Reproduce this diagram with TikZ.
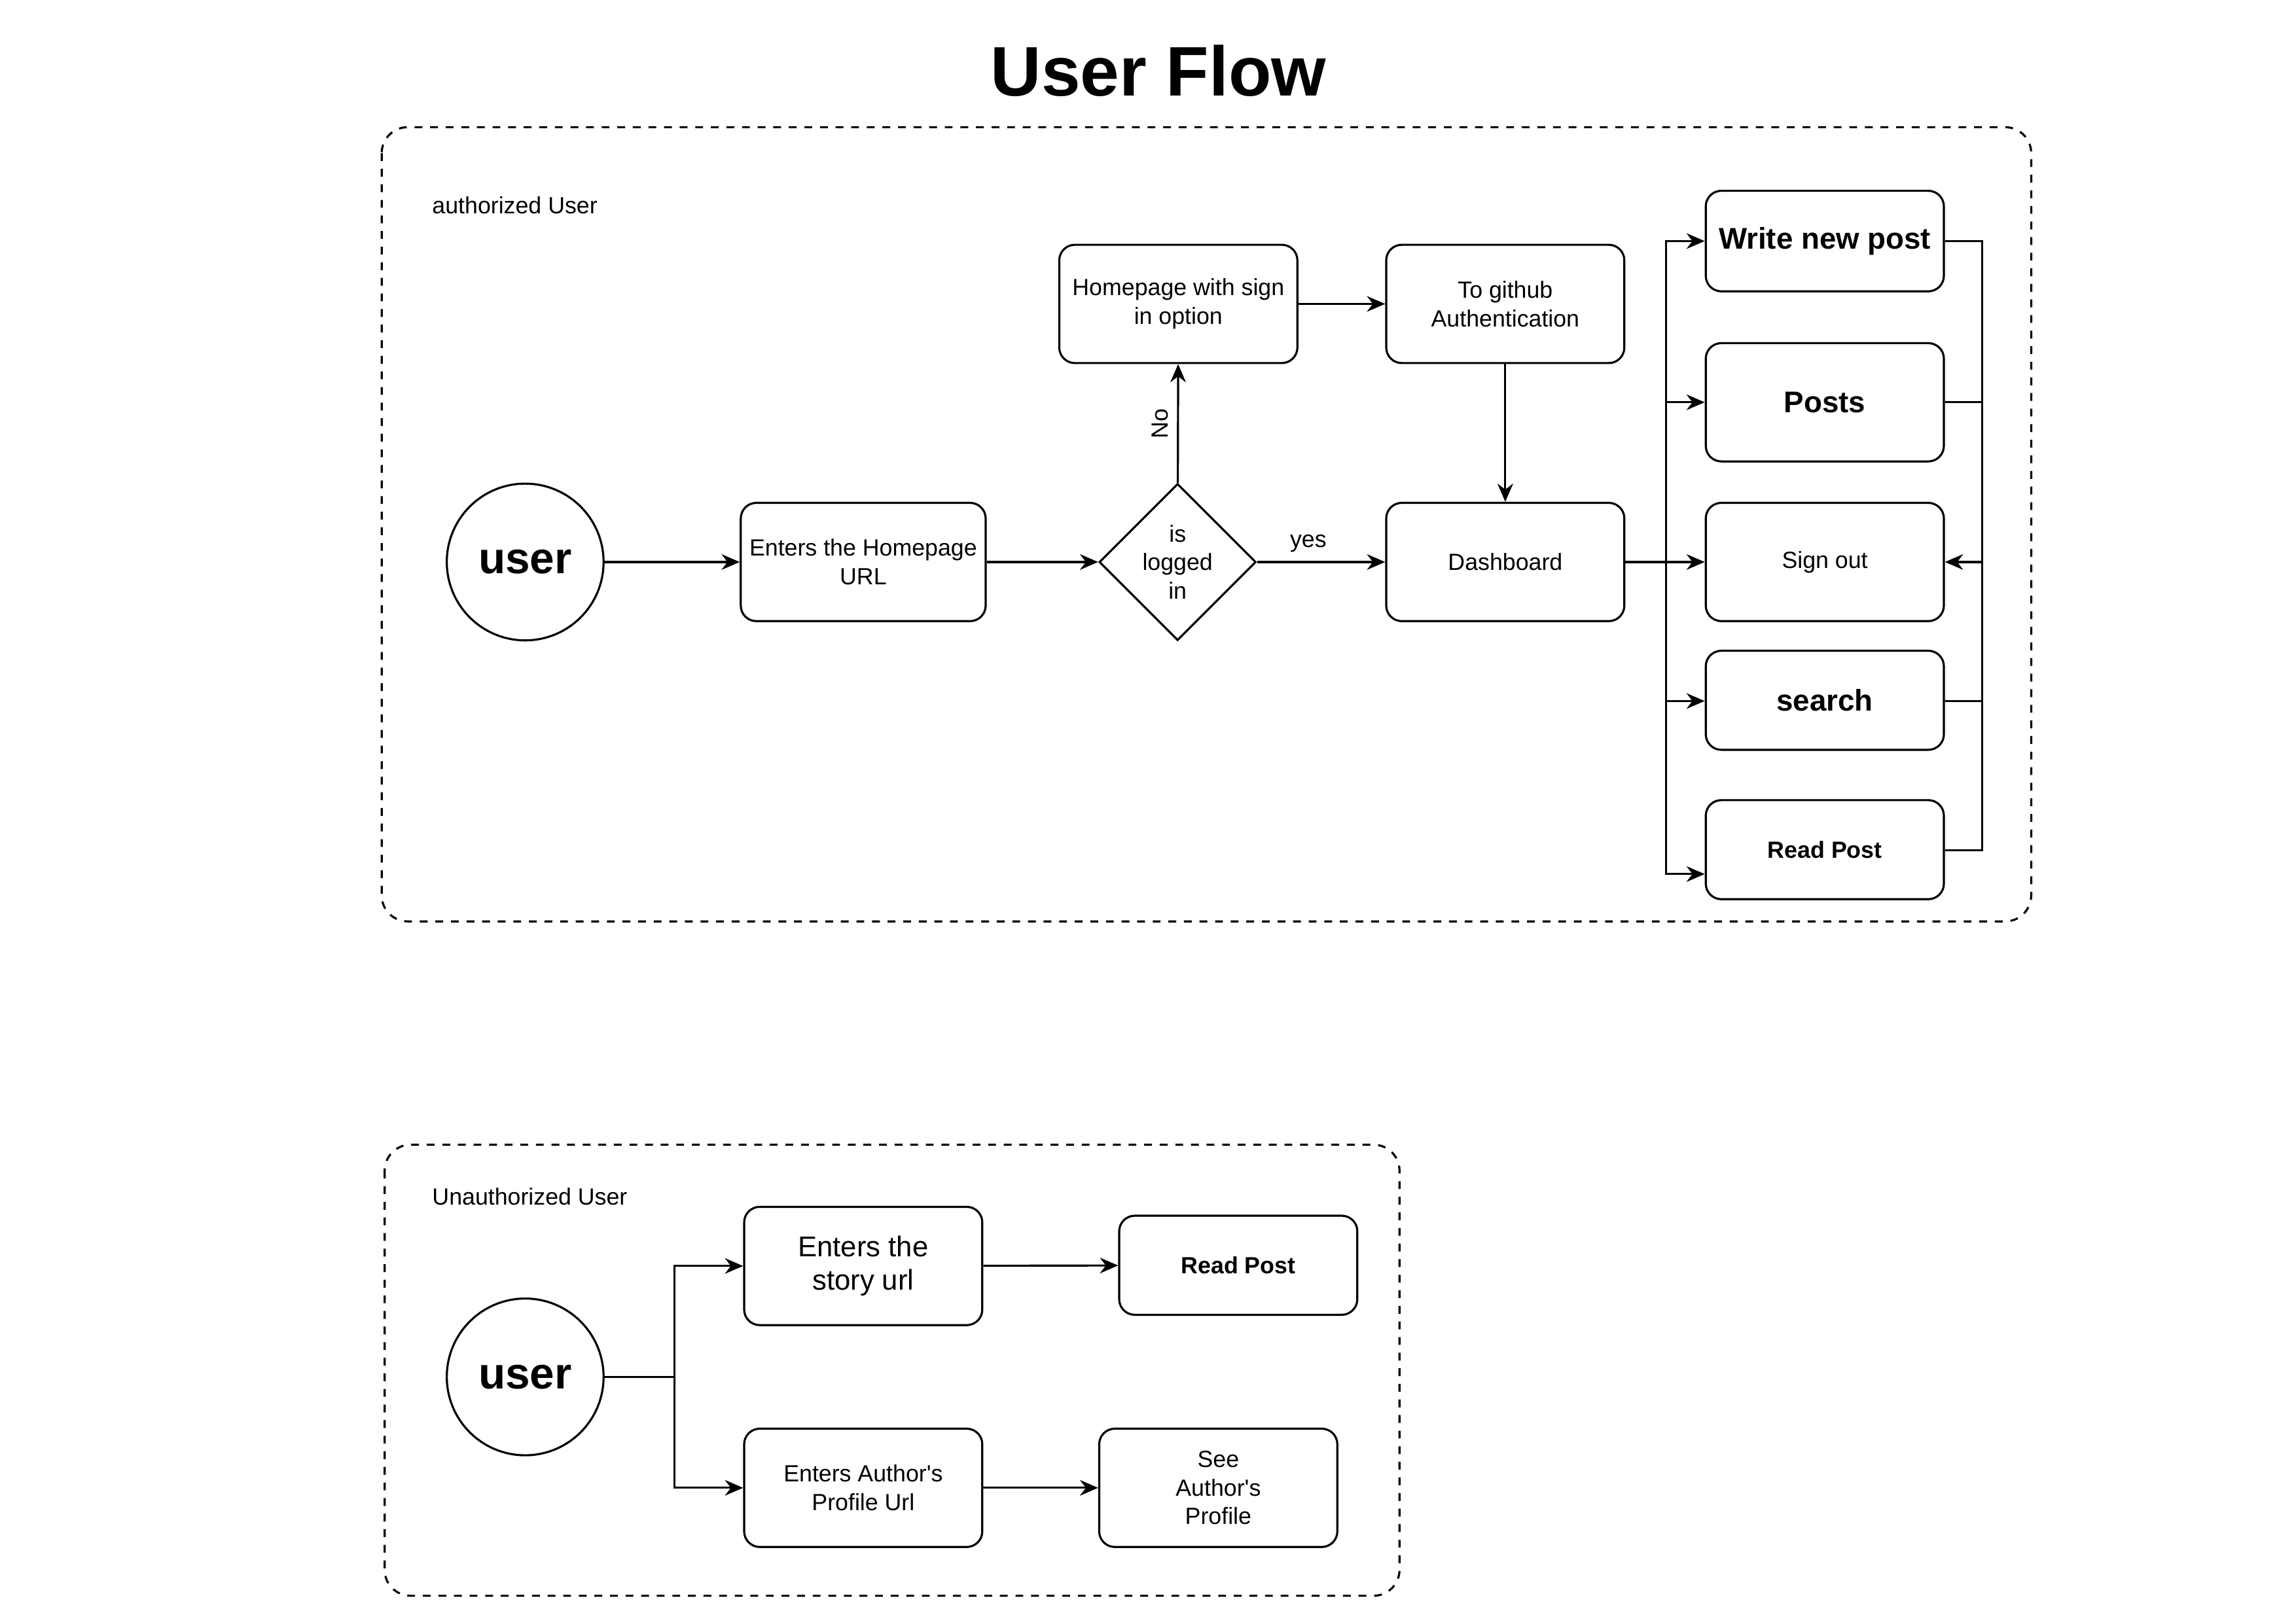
\documentclass[tikz,border=0pt]{standalone}
\usepackage{fontspec}
\setmainfont{Liberation Sans}
\usepackage{textcomp}
\usetikzlibrary{arrows.meta,shapes.geometric}

\tikzset{
  box/.style={draw, thick, rounded corners=6pt, minimum width=3.22cm, minimum height=1.6cm, align=center, font=\fontsize{9}{11}\selectfont},
  bigbox/.style={box, font=\bfseries\fontsize{11.5}{13}\selectfont},
  person/.style={draw, thick, circle, minimum size=2.12cm, inner sep=0pt, font=\bfseries\fontsize{17}{19}\selectfont},
  flow/.style={-{Stealth[length=7pt,width=6pt]}, thick},
  group/.style={draw, thick, dashed, rounded corners=10pt},
}

\begin{document}
\begin{tikzpicture}[x=0.02cm, y=-0.02cm]
\useasboundingbox (0,0) rectangle (1552,1098);

\node[font=\bfseries\fontsize{27}{30}\selectfont] (title) at (783,48) {User Flow};

% authorized
\draw[group] (258,86) rectangle (1373,623);
\node[anchor=west, font=\fontsize{9}{11}\selectfont] (authlbl) at (286,139) {authorized User};

\node[person] (user) at (355,380) {user};
\node[box] (homeurl) at (583.5,380) {Enters the Homepage\\URL};
\node[draw, thick, diamond, minimum width=2.12cm, minimum height=2.12cm, inner sep=0pt, align=center, font=\fontsize{9}{11}\selectfont] (logged) at (796,380) {is\\logged\\in};
\node[box] (signin) at (796.5,205.5) {Homepage with sign\\in option};
\node[box] (github) at (1017.5,205.5) {To github\\Authentication};
\node[box] (dash) at (1017.5,380) {Dashboard};

\node[bigbox, minimum height=1.36cm] (write) at (1233.5,163) {Write new post};
\node[bigbox] (posts) at (1233.5,272) {Posts};
\node[box] (signout) at (1233.5,380) {Sign out};
\node[bigbox, minimum height=1.34cm] (search) at (1233.5,473.5) {search};
\node[box, font=\bfseries\fontsize{9}{11}\selectfont, minimum height=1.34cm] (read) at (1233.5,574.5) {Read Post};

\coordinate (busl) at (1126,380);
\coordinate (busr) at (1340,380);

\draw[flow] (user) -- (homeurl);
\draw[flow] (homeurl) -- (logged);
\draw[flow] (logged) -- node[above, rotate=90, font=\fontsize{9}{11}\selectfont] {No} (signin);
\draw[flow] (logged) -- node[above, pos=0.4, font=\fontsize{9}{11}\selectfont] {yes} (dash);
\draw[flow] (signin) -- (github);
\draw[flow] (github) -- (dash);

\draw[flow] (dash) -- (signout);
\foreach \n/\yy in {write/163, posts/272, search/474, read/591}
  \draw[flow] (busl) |- (\n.west |- 0,\yy);
\foreach \n/\yy in {write/163, posts/272, search/474, read/575}
  \draw[thick] (\n.east |- 0,\yy) -| (busr);
\draw[flow] (busr) -- (signout);

% unauthorized
\draw[group] (260,774) rectangle (946,1079);
\node[anchor=west, font=\fontsize{9}{11}\selectfont] (unauthlbl) at (286,809) {Unauthorized User};

\node[person] (guest) at (355,931) {user};
\node[box, font=\fontsize{11}{13}\selectfont] (story) at (583.5,856) {Enters the\\story url};
\node[box, font=\bfseries\fontsize{9}{11}\selectfont, minimum height=1.34cm] (readpost) at (837,855.5) {Read Post};
\node[box] (profileurl) at (583.5,1006) {Enters Author\textquotesingle s\\Profile Url};
\node[box] (profile) at (823.5,1006) {See\\Author\textquotesingle s\\Profile};

\coordinate (split) at (456,931);
\draw[thick] (guest) -- (split);
\draw[flow] (split) |- (story);
\draw[flow] (split) |- (profileurl);
\draw[flow] (story) -- (readpost);
\draw[flow] (profileurl) -- (profile);

\end{tikzpicture}
\end{document}
